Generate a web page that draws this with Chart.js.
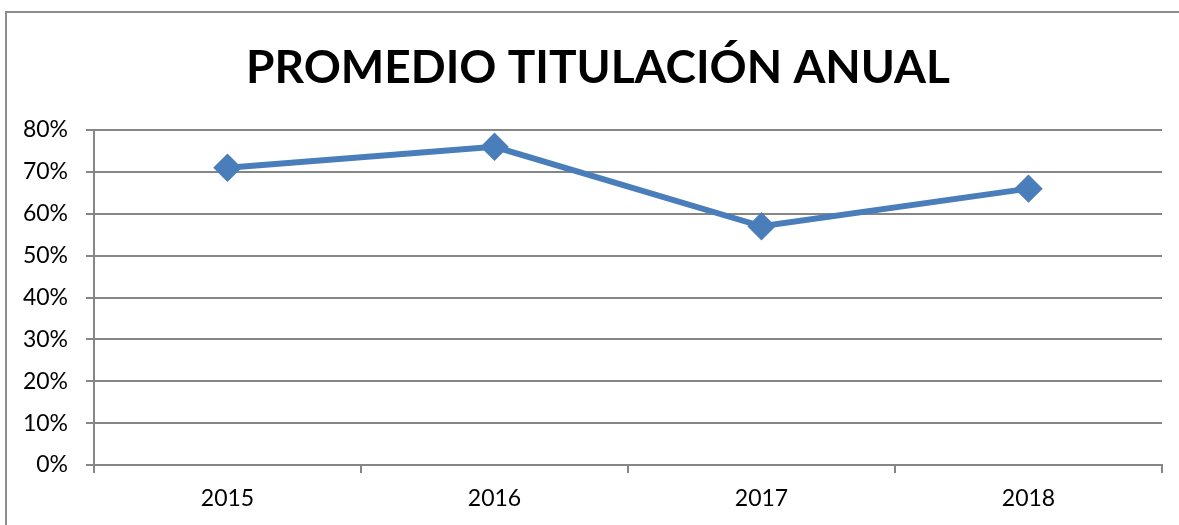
<!DOCTYPE html>
<html>
	<head>
		<meta charset="UTF-8">
		<title>Promedio titulación anual</title>
		<script src="https://cdn.jsdelivr.net/npm/chart.js"></script>
		<style>
			*{margin:0; padding:0;}
			body{background:#fff;}
			#wrap{position:relative; width:1179px; height:525px;}
		</style>
	</head>
	<body>
		<div id="wrap">
			<canvas id="myChart" width="1179" height="525"></canvas>
		</div>
		<script>
			// datos
			const years = ['2015', '2016', '2017', '2018'];
			const titulacion = [71, 76, 57, 66];
			const chartTitle = 'PROMEDIO TITULACIÓN ANUAL';

			// marco exterior (borde izquierdo y superior) + titulo
			const framePlugin = {
				id: 'frame',
				beforeDraw(chart) {
					const c = chart.ctx;
					c.save();
					c.strokeStyle = '#8c8c8c';
					c.lineWidth = 2;
					c.beginPath();
					c.moveTo(6, 525);
					c.lineTo(6, 12);
					c.lineTo(1179, 12);
					c.stroke();
					// titulo centrado en el marco
					c.fillStyle = '#000';
					c.font = 'bold 46px Lato';
					c.textAlign = 'center';
					c.textBaseline = 'alphabetic';
					c.fillText(chartTitle, 598, 83);
					c.restore();
				}
			};

			const ctx = document.getElementById('myChart');
			new Chart(ctx, {
				type: 'line',
				data: {
					labels: years,
					datasets: [{
						data: titulacion,
						borderColor: '#4a7ebb',
						backgroundColor: '#4a7ebb',
						borderWidth: 6,
						pointStyle: 'rectRot',
						pointRadius: 10,
						pointHoverRadius: 10,
						tension: 0
					}]
				},
				options: {
					responsive: false,
					animation: false,
					layout: {padding: {top: 130, right: 17, left: 0, bottom: 0}},
					plugins: {
						legend: {display: false},
						tooltip: {enabled: false},
						title: {display: false}
					},
					scales: {
						x: {
							offset: true,
							grid: {
								display: true,
								offset: true,
								drawOnChartArea: false,
								color: '#868686',
								lineWidth: 2,
								tickLength: 8
							},
							border: {color: '#868686', width: 2},
							ticks: {color: '#000', font: {family: 'Lato', size: 23}, padding: 12},
							afterFit(scale) { scale.height = 60; }
						},
						y: {
							min: 0,
							max: 80,
							grid: {color: '#868686', lineWidth: 2, tickLength: 8},
							border: {color: '#868686', width: 2},
							ticks: {
								stepSize: 10,
								color: '#000',
								font: {family: 'Lato', size: 23},
								padding: 18,
								callback: v => v + '%'
							},
							afterFit(scale) { scale.width = 94; }
						}
					}
				},
				plugins: [framePlugin]
			});
		</script>
	</body>
</html>
